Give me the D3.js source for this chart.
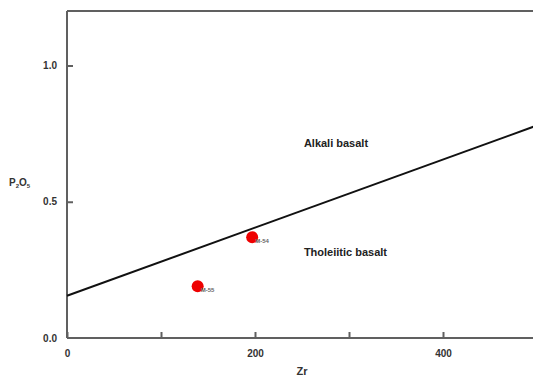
<!DOCTYPE html>
<html>
<head>
<meta charset="utf-8">
<script src="https://cdn.jsdelivr.net/npm/d3@7"></script>
<style>
body { margin: 0; background: #fff; }
text { font-family: Arial, "Liberation Sans", sans-serif; font-weight: bold; }
</style>
</head>
<body>
<script>
// Zr vs P2O5 discrimination diagram
var xTicks = [0, 100, 200, 300, 400];
var xTickLabels = ["0", "", "200", "", "400"];
var yTicks = [0, 0.5, 1.0];
var yTickLabels = ["0.0", "0.5", "1.0"];

// dividing line (Zr, P2O5)
var lineZr = [0, 500];
var lineP = [0.155, 0.78];

// samples
var sampleNames = ["M-54", "M-55"];
var sampleZr = [197, 139];
var sampleP = [0.37, 0.19];

var fieldNames = ["Alkali basalt", "Tholeiitic basalt"];
var fieldZr = [252, 252];
var fieldP = [0.7, 0.3];

var margin = {top: 11, right: 0, bottom: 41, left: 67};
var w = 533, h = 379;
var iw = 470, ih = h - margin.top - margin.bottom;

var x = d3.scaleLinear().domain([0, 500]).range([0, iw]);
var y = d3.scaleLinear().domain([0, 1.2]).range([ih, 0]);

var svg = d3.select("body").append("svg")
    .attr("width", w)
    .attr("height", h);

var g = svg.append("g")
    .attr("transform", "translate(" + margin.left + "," + margin.top + ")");

var axisColor = "#606060";

// frame
g.append("line").attr("x1", 0).attr("x2", iw + 10).attr("y1", 0).attr("y2", 0)
    .attr("stroke", axisColor).attr("stroke-width", 2);
g.append("line").attr("x1", 0).attr("x2", 0).attr("y1", 0).attr("y2", ih)
    .attr("stroke", axisColor).attr("stroke-width", 2);
g.append("line").attr("x1", 0).attr("x2", iw + 10).attr("y1", ih).attr("y2", ih)
    .attr("stroke", axisColor).attr("stroke-width", 2);

// x axis (ticks pointing inward)
var xAxis = g.append("g")
    .attr("transform", "translate(0," + ih + ")")
    .call(d3.axisBottom(x).tickValues(xTicks).tickSizeInner(-6).tickSizeOuter(0)
        .tickPadding(12)
        .tickFormat(function (d, i) { return xTickLabels[i]; }));
xAxis.select(".domain").remove();
xAxis.selectAll("line").attr("stroke", axisColor).attr("stroke-width", 2);
xAxis.selectAll("text").attr("fill", "#333").attr("font-size", 10)
    .attr("font-family", "Arial, 'Liberation Sans', sans-serif").attr("font-weight", "bold");

// y axis
var yAxis = g.append("g")
    .call(d3.axisLeft(y).tickValues(yTicks).tickSizeInner(-6).tickSizeOuter(0)
        .tickPadding(10)
        .tickFormat(function (d, i) { return yTickLabels[i]; }));
yAxis.select(".domain").remove();
yAxis.selectAll("line").attr("stroke", axisColor).attr("stroke-width", 2)
    .attr("display", function (d) { return d === 0 ? "none" : null; });
yAxis.selectAll("text").attr("fill", "#333").attr("font-size", 10)
    .attr("font-family", "Arial, 'Liberation Sans', sans-serif").attr("font-weight", "bold");

// dividing line
var lineData = lineZr.map(function (d, i) { return [d, lineP[i]]; });
g.append("path")
    .datum(lineData)
    .attr("d", d3.line().x(function (d) { return x(d[0]); }).y(function (d) { return y(d[1]); }))
    .attr("fill", "none")
    .attr("stroke", "#111")
    .attr("stroke-width", 2);

// samples
sampleNames.forEach(function (name, i) {
    g.append("circle")
        .attr("cx", x(sampleZr[i]))
        .attr("cy", y(sampleP[i]))
        .attr("r", 6)
        .attr("fill", "#ee0000");
    g.append("text")
        .attr("x", x(sampleZr[i]) + 3)
        .attr("y", y(sampleP[i]) + 6)
        .attr("font-size", 6)
        .attr("font-weight", "normal")
        .attr("fill", "#666")
        .text(name);
});

// field labels
fieldNames.forEach(function (name, i) {
    g.append("text")
        .attr("x", x(fieldZr[i]))
        .attr("y", y(fieldP[i]))
        .attr("font-size", 11)
        .attr("fill", "#222")
        .text(name);
});

// axis titles
svg.append("text")
    .attr("x", margin.left + x(250))
    .attr("y", 375)
    .attr("text-anchor", "middle")
    .attr("font-size", 11)
    .attr("fill", "#333")
    .text("Zr");

var yt = svg.append("text")
    .attr("x", 9)
    .attr("y", 186)
    .attr("font-size", 10)
    .attr("fill", "#333");
yt.append("tspan").text("P");
yt.append("tspan").attr("font-size", 6).attr("dy", 2).text("2");
yt.append("tspan").attr("dy", -2).text("O");
yt.append("tspan").attr("font-size", 6).attr("dy", 2).text("5");
</script>
</body>
</html>
